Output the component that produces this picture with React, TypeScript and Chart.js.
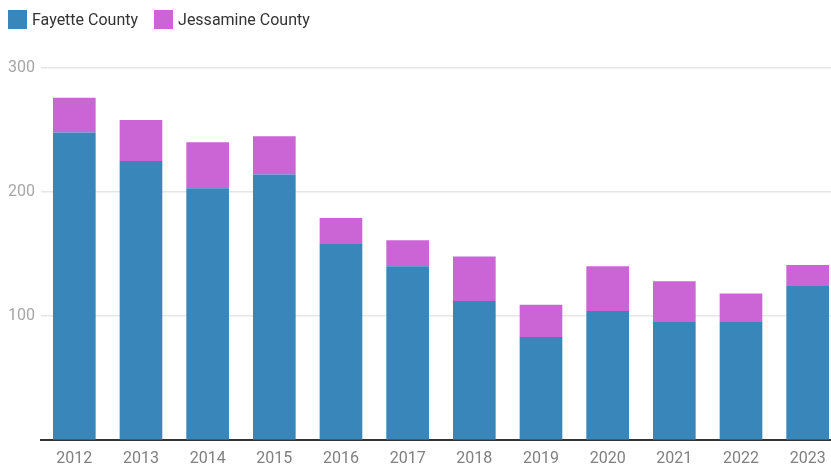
import React, { useEffect, useRef } from "react";
import { Chart, registerables } from "chart.js";

Chart.register(...registerables);

const years = ["2012", "2013", "2014", "2015", "2016", "2017", "2018", "2019", "2020", "2021", "2022", "2023"];
const fayette = [248, 225, 203, 214, 158, 140, 112, 83, 104, 95, 95, 124];
const jessamine = [28, 33, 37, 31, 21, 21, 36, 26, 36, 33, 23, 17];
const seriesNames = ["Fayette County", "Jessamine County"];
const seriesColors = ["#3987BA", "#CB65D6"];
const yTicks = [100, 200, 300];

const FONT = "Roboto, 'Noto Sans', sans-serif";

export default function App() {
  const ref = useRef<HTMLCanvasElement | null>(null);

  useEffect(() => {
    if (!ref.current) return;
    const chart = new Chart(ref.current, {
      type: "bar",
      data: {
        labels: years,
        datasets: [
          { label: seriesNames[0], data: fayette, backgroundColor: seriesColors[0], borderWidth: 0 },
          { label: seriesNames[1], data: jessamine, backgroundColor: seriesColors[1], borderWidth: 0 },
        ],
      },
      options: {
        responsive: false,
        animation: false,
        layout: { padding: { top: 68, left: 2, right: 0, bottom: 0 } },
        plugins: { legend: { display: false }, tooltip: { enabled: false } },
        datasets: { bar: { categoryPercentage: 1, barPercentage: 0.64 } },
        scales: {
          x: {
            stacked: true,
            grid: { display: false, drawTicks: false },
            border: { display: true, color: "#333333", width: 2 },
            ticks: { color: "#808080", font: { family: FONT, size: 16 }, padding: 10 },
          },
          y: {
            stacked: true,
            min: 0,
            max: 300,
            afterBuildTicks: (axis: any) => {
              axis.ticks = yTicks.map((v) => ({ value: v }));
            },
            grid: { color: "#e6e6e6", lineWidth: 1.5, drawTicks: false },
            border: { display: false },
            ticks: { color: "#a6a6a6", font: { family: FONT, size: 16 }, padding: 6 },
          },
        },
      },
    });
    return () => chart.destroy();
  }, []);

  return (
    <div style={{ position: "absolute", left: 0, top: 0, width: 831, height: 466, overflow: "hidden", background: "#fff" }}>
      <canvas ref={ref} width={841} height={479} style={{ position: "absolute", left: 0, top: 0, width: 841, height: 479 }} />
      <div style={{ position: "absolute", left: 8, top: 10, display: "flex", alignItems: "center", fontFamily: FONT, fontSize: 16, color: "#333" }}>
        {seriesNames.map((n, i) => (
          <div key={n} style={{ display: "flex", alignItems: "center", marginRight: 16 }}>
            <span style={{ display: "inline-block", width: 19, height: 19, background: seriesColors[i], marginRight: 5 }} />
            <span>{n}</span>
          </div>
        ))}
      </div>
    </div>
  );
}
